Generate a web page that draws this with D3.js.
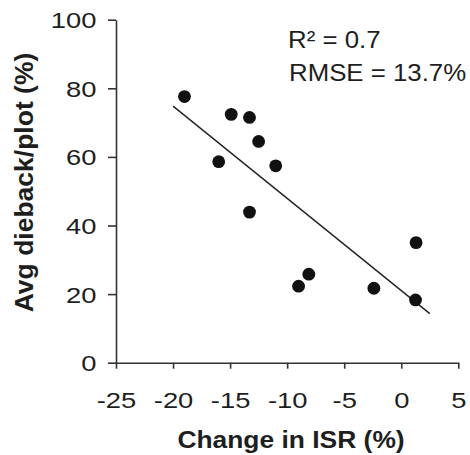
<!DOCTYPE html>
<html>
<head>
<meta charset="utf-8">
<script src="https://cdn.jsdelivr.net/npm/d3@7"></script>
<style>
  body { margin: 0; background: #fff; }
  svg { display: block; font-family: "Liberation Sans", Arial, sans-serif; }
</style>
</head>
<body>
<div id="chart"></div>
<script>
// DATA
const isrChange = [-19, -14.9, -13.3, -12.5, -16, -11, -13.3, 1.3, -8.1, -9, -2.4, 1.25];
const dieback = [77.6, 72.4, 71.5, 64.5, 58.6, 57.4, 43.9, 35, 25.8, 22.3, 21.7, 18.3];
const fitX = [-20, 2.5];
const fitY = [74.8, 14.3];
const xTicks = [-25, -20, -15, -10, -5, 0, 5];
const yTicks = [0, 20, 40, 60, 80, 100];
const statLines = ['R\u00b2 = 0.7', 'RMSE = 13.7%'];

const width = 470;
const height = 455;

const svg = d3.select('#chart').append('svg')
  .attr('width', width)
  .attr('height', height);

const x = d3.scaleLinear().domain([-25, 5]).range([116, 458.3]);
const y = d3.scaleLinear().domain([0, 100]).range([362.7, 19.7]);

const axisColor = '#333';
const textColor = '#1e1e1e';

// x axis
const gx = svg.append('g')
  .attr('transform', `translate(0,${y(0)})`)
  .call(d3.axisBottom(x).tickValues(xTicks).tickSize(6).tickSizeOuter(0).tickFormat(d => String(d)));

gx.selectAll('text')
  .attr('x', 0)
  .attr('y', 0)
  .attr('dy', null)
  .attr('transform', 'translate(0,45.5) scale(1.2,1)')
  .style('font-size', '22.8px')
  .style('fill', textColor);

// y axis
const gy = svg.append('g')
  .attr('transform', `translate(${x(-25)},0)`)
  .call(d3.axisLeft(y).tickValues(yTicks).tickSize(8).tickSizeOuter(0));

gy.selectAll('text')
  .attr('x', 0)
  .attr('dy', '0.35em')
  .attr('transform', 'translate(-19.5,0) scale(1.2,1)')
  .style('font-size', '22.8px')
  .style('fill', textColor);

[gx, gy].forEach(g => {
  g.select('.domain').attr('stroke', axisColor).attr('stroke-width', 1.6);
  g.selectAll('.tick line').attr('stroke', axisColor).attr('stroke-width', 1.6);
});

// fit line
svg.append('line')
  .attr('x1', x(fitX[0]))
  .attr('y1', y(fitY[0]))
  .attr('x2', x(fitX[1]))
  .attr('y2', y(fitY[1]))
  .attr('stroke', '#222')
  .attr('stroke-width', 1.4);

// points
svg.append('g').selectAll('circle')
  .data(isrChange)
  .enter()
  .append('circle')
  .attr('cx', d => x(d))
  .attr('cy', (d, i) => y(dieback[i]))
  .attr('r', 6.4)
  .attr('fill', '#111');

// stats text
svg.append('g').selectAll('text')
  .data(statLines)
  .enter()
  .append('text')
  .attr('transform', (d, i) => `translate(${288 + i},${47.6 + i * 33.4}) scale(1.09,1)`)
  .text(d => d)
  .style('font-size', '23.7px')
  .style('fill', textColor);

// axis titles
svg.append('text')
  .attr('transform', 'translate(291,447.5) scale(1.1,1)')
  .attr('text-anchor', 'middle')
  .style('font-size', '24px')
  .style('font-weight', 'bold')
  .style('fill', textColor)
  .text('Change in ISR (%)');

svg.append('text')
  .attr('transform', 'translate(33,182.5) rotate(-90)')
  .attr('text-anchor', 'middle')
  .style('font-size', '26.5px')
  .style('font-weight', 'bold')
  .style('fill', textColor)
  .text('Avg dieback/plot (%)');
</script>
</body>
</html>
